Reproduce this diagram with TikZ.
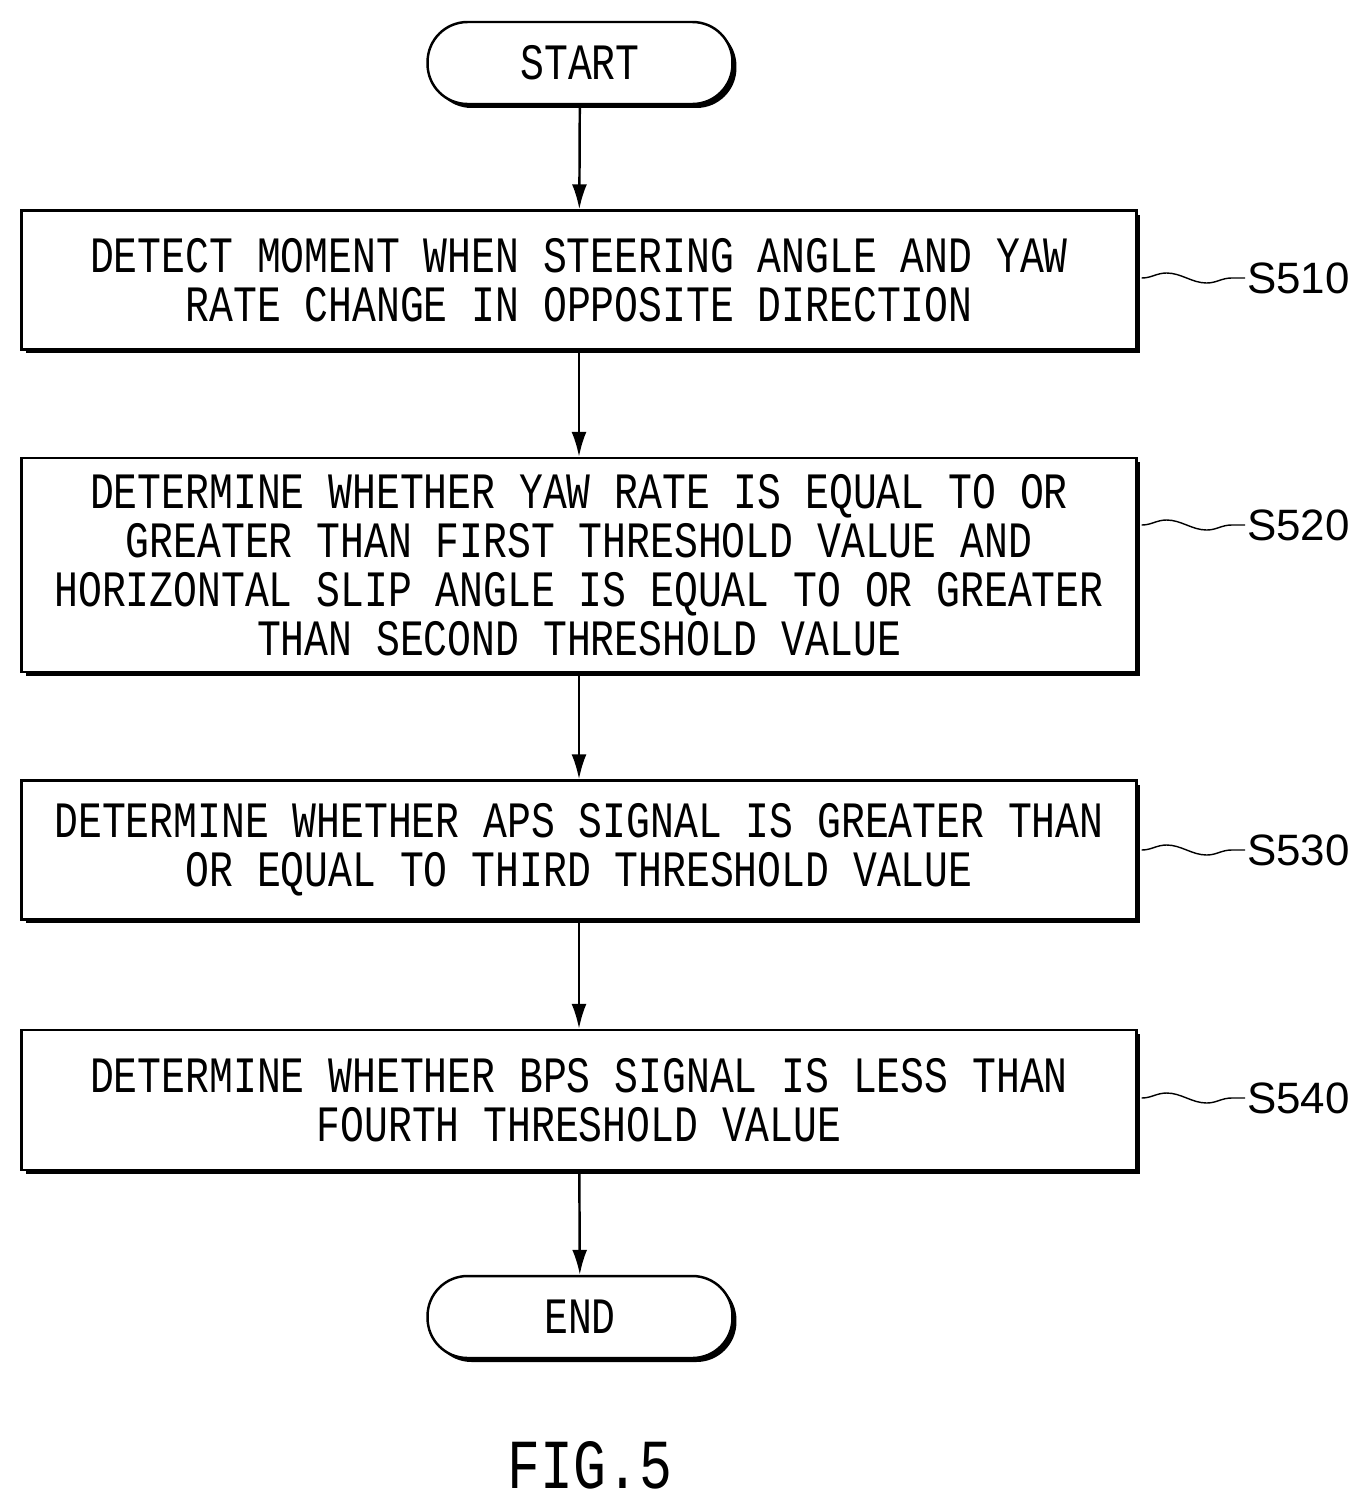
\documentclass[tikz,border=0pt]{standalone}
\usepackage{fontspec}
\newfontfamily\flowfont[FakeStretch=0.78]{Liberation Mono}
\newfontfamily\labelfont{Liberation Sans}
\usetikzlibrary{shadows,decorations.pathmorphing,arrows.meta}

\tikzset{
    stepbox/.style={draw, line width=1.4pt, fill=white, align=center, inner sep=0pt,
        minimum width=22.3cm, font=\flowfont\fontsize{29}{28}\selectfont,
        drop shadow={shadow xshift=0.08cm, shadow yshift=-0.08cm, fill=black, opacity=1}},
    termbox/.style={draw, line width=1.4pt, fill=white, rounded corners=0.8cm,
        minimum width=6.1cm, minimum height=1.64cm, font=\flowfont\fontsize{29}{28}\selectfont,
        drop shadow={shadow xshift=0.08cm, shadow yshift=-0.08cm, fill=black, opacity=1}},
    flow/.style={line width=1.4pt, -{Latex[length=0.5cm,width=0.3cm]}},
    tag/.style={font=\labelfont\fontsize{25}{25}\selectfont, anchor=west, inner sep=1pt},
    squig/.style={line width=0.8pt, decorate, decoration={snake, amplitude=0.1cm, segment length=1.6cm}}
}

\begin{document}
\begin{tikzpicture}[x=0.02cm, y=-0.02cm]
    \useasboundingbox (0,0) rectangle (1365,1505);

    % terminals and steps
    \node[termbox] (start) at (580,63) {START};
    \node[stepbox, minimum height=2.78cm] (s510) at (579,280)
        {DETECT MOMENT WHEN STEERING ANGLE AND YAW\\RATE CHANGE IN OPPOSITE DIRECTION};
    \node[stepbox, minimum height=4.28cm] (s520) at (579,565)
        {DETERMINE WHETHER YAW RATE IS EQUAL TO OR\\GREATER THAN FIRST THRESHOLD VALUE AND\\HORIZONTAL SLIP ANGLE IS EQUAL TO OR GREATER\\THAN SECOND THRESHOLD VALUE};
    \node[stepbox, minimum height=2.78cm] (s530) at (579,850)
        {DETERMINE WHETHER APS SIGNAL IS GREATER THAN\\OR EQUAL TO THIRD THRESHOLD VALUE};
    \node[stepbox, minimum height=2.8cm] (s540) at (579,1100)
        {DETERMINE WHETHER BPS SIGNAL IS LESS THAN\\FOURTH THRESHOLD VALUE};
    \node[termbox] (end) at (580,1317) {END};

    % arrows
    \draw[flow] (start) -- (s510);
    \draw[flow] (s510) -- (s520);
    \draw[flow] (s520) -- (s530);
    \draw[flow] (s530) -- (s540);
    \draw[flow] (s540) -- (end);

    % step labels
    \foreach \s/\y in {510/278, 520/525, 530/850, 540/1098} {
        \node[tag] (l\s) at (1245,\y) {S\s};
        \draw[squig] (s\s.east |- l\s) ++(4,0) -- (l\s.west);
    }

    \node[font=\flowfont\fontsize{40}{40}\selectfont] (fig) at (590,1465) {FIG.5};
\end{tikzpicture}
\end{document}
